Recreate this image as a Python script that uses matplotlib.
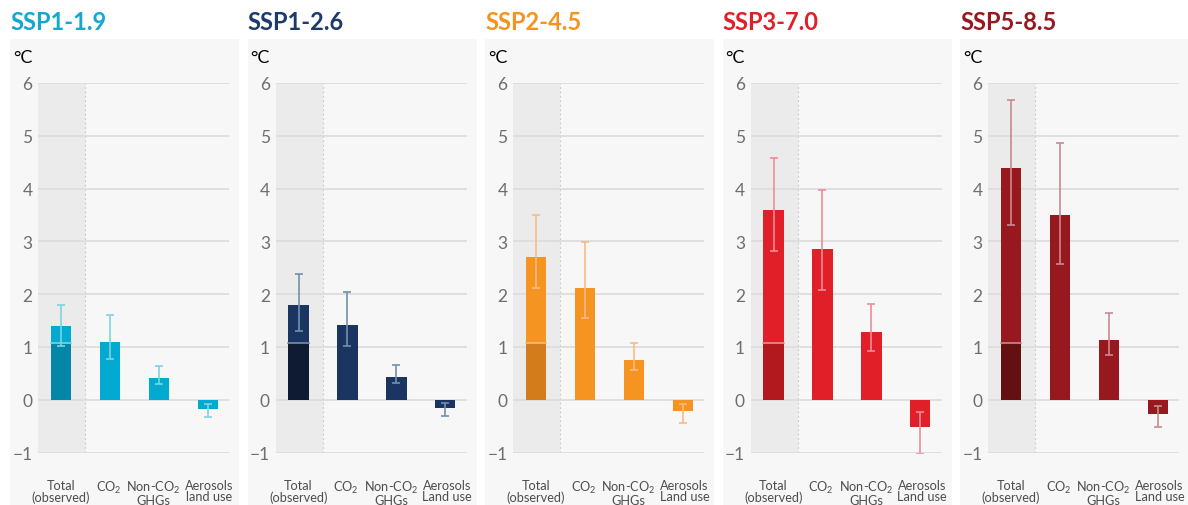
import matplotlib.pyplot as plt
from matplotlib.patches import Rectangle

plt.rcParams['font.family'] = ['Lato', 'DejaVu Sans']
plt.rcParams['mathtext.fontset'] = 'custom'
plt.rcParams['mathtext.rm'] = 'Lato'
plt.rcParams['mathtext.it'] = 'Lato'
plt.rcParams['mathtext.default'] = 'rm'

# Values (degrees C)
scenarios = ["SSP1-1.9", "SSP1-2.6", "SSP2-4.5", "SSP3-7.0", "SSP5-8.5"]
total = [1.40, 1.79, 2.70, 3.59, 4.39]
total_lo = [1.01, 1.31, 2.11, 2.81, 3.31]
total_hi = [1.79, 2.39, 3.49, 4.58, 5.68]
co2 = [1.09, 1.41, 2.12, 2.85, 3.50]
co2_lo = [0.78, 1.01, 1.54, 2.07, 2.57]
co2_hi = [1.60, 2.05, 2.99, 3.98, 4.87]
nonco2 = [0.41, 0.43, 0.75, 1.28, 1.14]
nonco2_lo = [0.29, 0.31, 0.56, 0.92, 0.84]
nonco2_hi = [0.63, 0.65, 1.08, 1.81, 1.64]
aerosols = [-0.18, -0.16, -0.21, -0.51, -0.27]
aerosols_lo = [-0.33, -0.31, -0.45, -1.02, -0.52]
aerosols_hi = [-0.09, -0.07, -0.09, -0.23, -0.11]
observed = 1.07

main_colors = ["#02a9d0", "#1b3562", "#f69421", "#e11f28", "#97191f"]
dark_colors = ["#0487a6", "#0f1b33", "#d27c1b", "#b2191f", "#641012"]
err_colors = ["#80d3e2", "#7390ab", "#f6bb85", "#ed8d95", "#c98990"]
title_colors = ["#14a8cf", "#1c3a6b", "#f6931f", "#e11f28", "#97191f"]

labels_first = ["Total\n(observed)", "CO$_2$", "Non-CO$_2$\nGHGs", "Aerosols\nland use"]
labels_rest = ["Total\n(observed)", "CO$_2$", "Non-CO$_2$\nGHGs", "Aerosols\nLand use"]
label_dx = [0, -1, -4, 1]  # small horizontal nudges in points

W, H = 1188, 506
fig = plt.figure(figsize=(W / 100, H / 100), dpi=100)
fig.patch.set_facecolor("white")

pitch = 237.5
for i, name in enumerate(scenarios):
    left = 10 + pitch * i
    # panel background
    fig.patches.append(Rectangle((left / W, 0), 229 / W, (H - 40) / H,
                                 transform=fig.transFigure, facecolor="#f7f7f7",
                                 edgecolor="none", zorder=0))
    fig.text(left / W, 1 - 30 / H, name, color=title_colors[i], fontsize=17,
             fontweight="bold", va="baseline", ha="left")
    fig.text((left + 3) / W, 1 - 58 / H, "°C", color="black", fontsize=13,
             va="center", ha="left")

    ax = fig.add_axes([(left + 28) / W, 52.5 / H, 191 / W, 369.5 / H])
    ax.set_zorder(2)
    ax.set_facecolor("none")
    ax.set_xlim(-0.47, 3.43)
    ax.set_ylim(-1, 6)
    ax.axvspan(-0.47, 0.49, color="#ebebeb", zorder=0, lw=0)
    ax.axvline(0.49, color="#cfcfcf", ls=(0, (2, 2)), lw=0.8, zorder=1)
    for yv in range(-1, 7):
        ax.axhline(yv, color="#dddddd", lw=1.3, zorder=1)

    vals = [total[i], co2[i], nonco2[i], aerosols[i]]
    lo = [total_lo[i], co2_lo[i], nonco2_lo[i], aerosols_lo[i]]
    hi = [total_hi[i], co2_hi[i], nonco2_hi[i], aerosols_hi[i]]
    xs = [0, 1, 2, 3]
    ax.bar(xs, vals, width=0.41, color=main_colors[i], zorder=2)
    ax.bar(0, observed, width=0.41, color=dark_colors[i], zorder=3)
    ax.plot([-0.205, 0.205], [observed, observed], color=err_colors[i], lw=1.2, zorder=4)
    mids = [(a + b) / 2 for a, b in zip(lo, hi)]
    half = [(b - a) / 2 for a, b in zip(lo, hi)]
    ax.errorbar(xs, mids, yerr=half, fmt="none", ecolor=err_colors[i],
                elinewidth=1.2, capsize=2.6, capthick=1.2, zorder=5)

    for s in ax.spines.values():
        s.set_visible(False)
    ax.set_yticks(range(-1, 7))
    ax.set_yticklabels([str(v).replace("-", "\u2212") for v in range(-1, 7)])
    ax.tick_params(axis="y", length=0, pad=4, labelsize=12.5, labelcolor="#6e6e6e")
    ax.set_xticks([])
    labels = labels_first if i == 0 else labels_rest
    for x, lab, dx in zip(xs, labels, label_dx):
        ax.annotate(lab, xy=(x, 0), xycoords=("data", "axes fraction"),
                    xytext=(dx, -19), textcoords="offset points",
                    ha="center", va="top", fontsize=9.2, color="#4d4d4d",
                    linespacing=0.95, annotation_clip=False)

fig.savefig("out.png", dpi=100)
